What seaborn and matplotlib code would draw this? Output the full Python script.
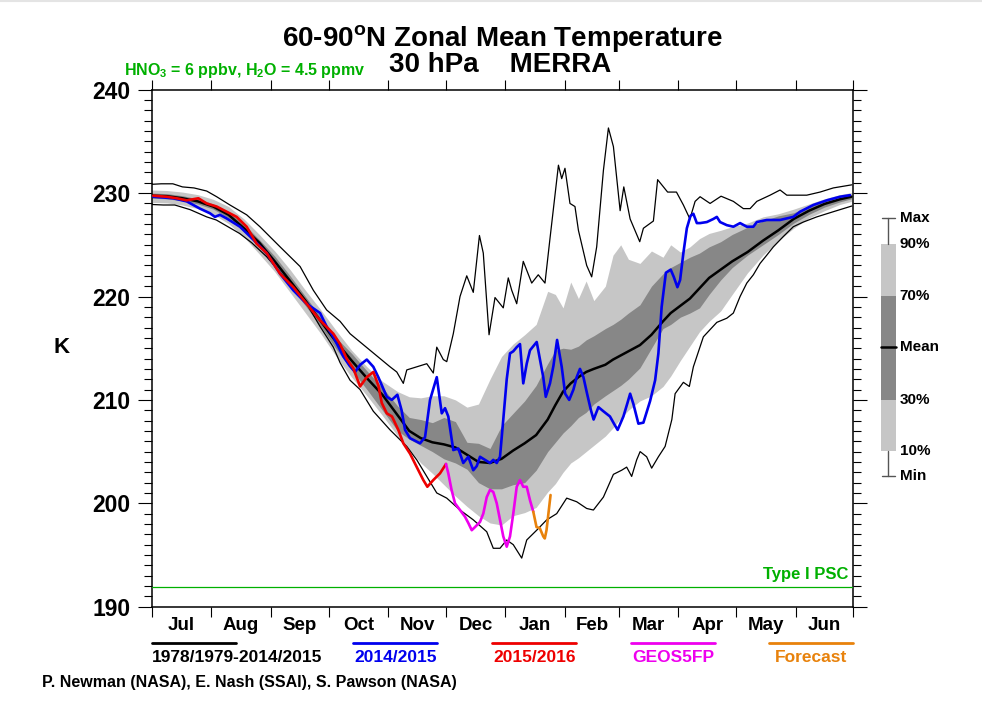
import numpy as np
import pandas as pd
import matplotlib
matplotlib.use("Agg")
import matplotlib.pyplot as plt
from matplotlib.patches import Rectangle
from matplotlib.lines import Line2D
import seaborn as sns

# ---------------- data (day 0 = 1 July) ----------------
band_days = [0, 8, 16, 24, 32, 40, 48, 56, 64, 72, 80, 88, 96, 104, 112, 120, 128, 134, 140, 146,
             152, 158, 164, 170, 176, 182, 188, 194, 200, 206, 210, 214, 218, 222, 226, 230, 236, 240,
             244, 248, 254, 260, 266, 270, 275, 280, 285, 290, 296, 302, 310, 318, 326, 334, 342, 350,
             358, 364]
clim_mean = [229.75, 229.7, 229.5, 229.2, 228.7, 227.9, 226.6, 225.2, 223.4, 221.5, 219.6, 217.6, 215.6,
             213.8, 212.1, 210.5, 208.5, 207.0, 206.3, 205.9, 205.7, 205.4, 204.7, 204.0, 203.9, 204.3,
             205.1, 205.8, 206.6, 208.1, 209.5, 210.8, 211.6, 212.2, 212.7, 213.0, 213.4, 213.9, 214.3,
             214.7, 215.3, 216.3, 217.6, 218.4, 219.1, 219.8, 220.8, 221.8, 222.6, 223.4, 224.3, 225.4,
             226.4, 227.5, 228.3, 228.95, 229.4, 229.65]
p90 = [230.3, 230.25, 230.1, 229.85, 229.4, 228.7, 227.5, 226.0, 224.4, 222.6, 220.6, 218.7, 216.7,
       214.8, 213.2, 211.8, 210.8, 210.3, 210.2, 210.4, 210.4, 210.0, 209.3, 209.6, 212.0, 214.2,
       215.4, 216.3, 217.3, 220.5, 220.2, 218.9, 221.4, 219.8, 221.5, 219.6, 221.0, 224.0, 225.0,
       223.6, 223.2, 224.4, 223.8, 225.0, 224.3, 224.8, 225.6, 226.1, 226.4, 226.75, 227.1, 227.7,
       228.0, 228.45, 228.95, 229.45, 229.85, 230.05]
p70 = [230.0, 229.95, 229.75, 229.45, 228.95, 228.2, 227.0, 225.5, 223.9, 222.0, 220.0, 218.0, 216.0,
       214.5, 212.8, 211.2, 209.4, 208.3, 208.1, 207.8, 208.3, 207.9, 205.9, 205.8, 205.3, 207.5,
       208.7, 209.9, 211.4, 213.5, 214.8, 215.0, 214.9, 215.2, 215.8, 216.2, 216.9, 217.3, 217.8,
       218.4, 219.2, 221.0, 222.2, 222.8, 223.3, 223.8, 224.2, 224.8, 225.3, 226.0, 226.7, 227.3,
       227.8, 228.1, 228.7, 229.25, 229.6, 229.85]
p30 = [229.5, 229.45, 229.25, 228.95, 228.45, 227.6, 226.3, 224.7, 223.0, 221.0, 219.1, 217.1, 214.9,
       212.9, 211.0, 209.0, 207.0, 206.2, 205.6, 205.0, 204.3, 203.9, 203.3, 202.0, 201.4, 201.4,
       201.8, 202.0, 203.2, 205.0, 205.9, 206.8, 207.5, 208.3, 208.8, 209.6, 210.4, 210.9, 211.4,
       212.0, 213.1, 215.0, 216.9, 217.3, 218.0, 218.4, 218.9, 220.2, 221.6, 222.8, 224.0, 225.0,
       226.0, 227.1, 227.95, 228.65, 229.15, 229.45]
p10 = [229.1, 229.05, 228.85, 228.5, 227.95, 227.05, 225.75, 224.1, 222.4, 220.4, 218.4, 216.4, 214.2,
       212.2, 210.4, 208.5, 206.5, 205.2, 203.9, 202.9, 201.8, 200.7, 199.7, 198.8, 198.1, 197.9,
       198.8, 199.1, 199.6, 201.1, 201.9, 203.0, 203.9, 204.4, 205.0, 205.6, 206.5, 207.3, 208.2,
       209.0, 209.9, 210.4, 211.3, 212.3, 213.8, 215.2, 216.6, 217.6, 218.6, 220.2, 222.3, 224.0,
       225.4, 226.6, 227.6, 228.3, 228.9, 229.2]

max_days = [0, 5, 11, 16, 22, 28.6, 33.8, 40.7, 49.4, 56.3, 66.8, 77.2, 84.1, 91, 98, 103.2, 108.4,
            113.6, 118.8, 124, 127.5, 130.9, 132.7, 137.9, 143.1, 146.5, 148.3, 151.7, 153.5, 156.9,
            160.4, 163.9, 167.3, 170.5, 172.5, 175.5, 178.6, 182.9, 185.5, 187.3, 189.9, 193.3, 197.7,
            201.1, 204.6, 207.2, 211.6, 213.3, 215, 217.6, 220.2, 222, 226.3, 228.9, 231.5, 235,
            237.6, 240.2, 243.7, 245.6, 248.9, 253.9, 255.8, 261, 263.2, 268.4, 273, 276.6, 280,
            282.7, 285.3, 290.5, 296.2, 302.6, 307.8, 311.3, 314.8, 321.7, 326.9, 330.4, 340.8,
            347.7, 354.6, 364.2]
max_vals = [230.85, 230.9, 230.9, 230.6, 230.5, 230.2, 229.65, 228.85, 227.9, 226.75, 224.8, 222.9,
            220.6, 218.7, 217.6, 216.4, 215.6, 214.8, 214.0, 213.2, 212.7, 211.6, 212.9, 213.2, 213.5,
            212.6, 215.1, 213.9, 213.7, 216.4, 220.0, 222.0, 220.4, 225.9, 224.2, 216.3, 219.9, 218.9,
            221.8, 220.6, 219.3, 223.4, 221.3, 222.1, 221.3, 225.6, 232.7, 231.4, 232.4, 229.0, 228.7,
            226.4, 223.0, 221.9, 224.8, 232.2, 236.3, 234.5, 228.3, 230.6, 227.5, 225.3, 226.6, 227.3,
            231.3, 230.1, 230.1, 228.85, 227.5, 229.2, 229.65, 229.0, 229.7, 229.2, 228.5, 228.5,
            229.2, 229.8, 230.3, 229.8, 229.8, 230.1, 230.5, 230.8]

min_days = [0, 6, 12, 20, 28.6, 33.6, 45.7, 52, 59.8, 66, 72, 80.6, 87.6, 94.5, 98, 103.2, 108.4,
            115.3, 124, 132.7, 137.9, 143.1, 148.3, 153.5, 160.4, 167.3, 174.3, 177.7, 181.2, 184.7,
            188.1, 192.5, 195.1, 200.3, 205.5, 210.7, 215.9, 221.1, 226.3, 229.8, 235, 240.2, 244.5,
            247.1, 249.7, 252.3, 254.1, 257.5, 260.1, 263.6, 267.1, 270.6, 272.3, 276.6, 279.7, 281.8,
            283.6, 287, 290.5, 294, 299.2, 302.6, 306.1, 309.6, 313, 316.5, 320, 323.4, 328.6, 333.8,
            339, 346, 354.6, 364.2]
min_vals = [228.9, 228.85, 228.85, 228.4, 227.7, 227.4, 226.1, 225.2, 223.85, 222.5, 221.3, 219.3,
            217.1, 215.1, 213.6, 211.9, 211.0, 208.9, 207.1, 205.5, 204.2, 202.6, 201.0, 200.5, 199.35,
            198.4, 197.25, 195.65, 195.65, 196.45, 196.0, 194.7, 196.45, 197.4, 198.4, 199.0, 200.5,
            200.15, 199.5, 199.35, 200.6, 202.8, 203.2, 203.5, 202.6, 204.2, 205.0, 204.5, 203.4, 204.5,
            205.5, 208.1, 210.6, 211.7, 211.3, 213.2, 214.2, 216.1, 216.8, 217.5, 217.9, 218.4, 220.0,
            221.3, 222.1, 223.2, 224.0, 224.8, 225.8, 226.75, 227.2, 227.7, 228.2, 228.75]

y1415_days = [0.8, 11.2, 18.2, 25.1, 30.3, 32.9, 35.5, 39, 45.9, 52.9, 59.8, 66.8, 73.7, 80.6, 87.6,
              91, 94.5, 99.7, 103, 105.8, 108.5, 111.9, 115.3, 117.9, 122.3, 124.9, 127.8, 130, 131.8,
              134.4, 139.6, 142.2, 144.8, 148.3, 150.9, 152.6, 154.3, 156.9, 159.5, 162.1, 164.7,
              167.3, 169.1, 170.8, 173.4, 176, 177.7, 179.5, 181.2,
              182.9, 184.7, 186.4, 188.1, 189.9, 191.6, 193.3, 195.1, 196.8, 200.3, 202, 203.7, 205,
              207.2, 209, 210.9, 213.3, 215.1, 217.2, 219.4, 221.1, 222.8, 224.6, 226.5, 228.5, 229.9,
              232.4, 235, 238.4, 240.5, 242.4, 245.4, 247.5, 248.9, 250.6, 253.2, 255.8, 259.3, 261.9,
              263.6, 265.3, 267.5, 270, 271.6, 273.5, 274.9, 276.6, 278.4, 280.3, 281.8, 283.6, 285.3,
              288.8, 292.2, 294, 295.7, 299.2, 302.6, 306.1, 309.6, 313, 314.8, 320, 326.9, 333.8,
              337.3, 344.2, 351.2, 358.1, 363.3]
y1415_vals = [229.65, 229.5, 229.2, 228.5, 228.05, 227.7, 227.9, 227.55, 226.75, 225.5, 224.2, 222.2,
              220.6, 219.3, 218.4, 217.1, 216.1, 214.2, 213.3, 212.7, 213.4, 213.9, 213.2, 212.2, 210.3,
              210.0, 210.5, 209.0, 207.1, 206.3, 205.8, 206.4, 210.0, 212.2, 208.7, 209.2, 208.4,
              205.15, 205.3, 203.9, 204.5, 203.2, 203.6, 204.5, 204.2, 203.9, 204.2, 203.9, 204.5,
              208.1, 212.0, 214.5, 214.7, 215.1, 215.4, 211.6, 213.5, 214.8,
              215.6, 213.9, 212.2, 210.3, 211.6, 213.3, 215.8, 213.2, 210.6, 210.0, 211.0, 212.2, 213.0,
              212.2, 210.6, 209.0, 208.1, 209.3, 208.9, 208.4, 207.7, 207.1, 208.4, 209.7, 210.6, 209.6,
              207.7, 207.8, 209.9, 211.9, 214.5, 219.0, 222.3, 222.6, 221.9, 220.9, 221.6, 224.2, 226.6,
              227.8, 228.0, 227.1, 227.1, 227.2, 227.5, 227.7, 227.2, 226.9, 226.75, 227.1, 226.75,
              226.75, 227.2, 227.4, 227.4, 227.7, 228.2, 228.85, 229.3, 229.65, 229.8]

y1516_days = [0.8, 7.8, 13, 18.2, 24.3, 28.6, 33.8, 39, 44.2, 49.4, 54.6, 59.8, 66.8, 73.7, 80.6, 87.6,
              94.5, 98, 101.4, 104.9, 108.4, 111.9, 115.3, 117.9, 119.7, 122.3, 125, 128.3, 130.9,
              134.4, 137.9, 141.3, 143.4, 146.5, 150, 153.1]
y1516_vals = [229.75, 229.65, 229.5, 229.3, 229.5, 229.0, 228.7, 228.2, 227.7, 226.75, 225.1, 224.2,
              222.2, 220.9, 219.3, 217.7, 216.4, 215.4, 214.0, 213.05, 211.3, 212.2, 212.7, 211.4,
              209.7, 208.7, 208.4, 207.1, 205.8, 204.8, 203.5, 202.25, 201.6, 202.25, 202.9, 203.8]

geos_days = [153.1, 154.3, 156, 157.8, 160.4, 163, 164.7, 166.5, 168.2, 170.8, 172.5, 174.3, 176,
             177.7, 179.5, 181.2, 182.9, 184.7, 186.4, 188.1, 189.9, 191.6, 193.3, 195.1, 196.8, 198.5]
geos_vals = [203.8, 202.9, 201.3, 200.0, 199.35, 198.7, 198.1, 197.4, 197.7, 198.2, 199.0, 200.6,
             201.3, 201.1, 200.0, 198.4, 196.8, 195.8, 196.8, 199.0, 201.6, 202.25, 201.6, 201.6,
             200.3, 199.2]

fcst_days = [198.5, 200.2, 201.9, 203.7, 204.5, 205.4, 206.2, 207.5]
fcst_vals = [199.2, 197.7, 197.6, 196.8, 196.6, 197.4, 198.7, 200.8]

psc_temp = 191.9
month_starts = [0, 31, 62, 92, 123, 153, 184, 215, 243, 274, 304, 335, 365]
month_labels = ["Jul", "Aug", "Sep", "Oct", "Nov", "Dec", "Jan", "Feb", "Mar", "Apr", "May", "Jun"]
legend_labels = ["1978/1979-2014/2015", "2014/2015", "2015/2016", "GEOS5FP", "Forecast"]
key_labels = ["Max", "90%", "70%", "Mean", "30%", "10%", "Min"]
key_levels = [227.55, 225.05, 220.05, 215.1, 210.0, 205.1, 202.65]

# ---------------- style ----------------
sns.set_theme(style="ticks")
plt.rcParams['font.family'] = ['Liberation Sans', 'DejaVu Sans']
plt.rcParams['font.weight'] = 'bold'
plt.rcParams['text.color'] = 'black'
plt.rcParams['axes.labelcolor'] = 'black'
plt.rcParams['xtick.color'] = 'black'
plt.rcParams['ytick.color'] = 'black'
plt.rcParams['mathtext.fontset'] = 'custom'
plt.rcParams['mathtext.rm'] = 'Liberation Sans:bold'
plt.rcParams['mathtext.bf'] = 'Liberation Sans:bold'
plt.rcParams['mathtext.it'] = 'Liberation Sans:bold'
plt.rcParams['mathtext.default'] = 'bf'

LIGHT = '#c6c6c6'
DARK = '#878787'
BLUE = '#0000ee'
RED = '#ee0000'
MAG = '#ee00ee'
ORANGE = '#e8820c'
GREEN = '#00b000'

fig = plt.figure(figsize=(9.82, 7.12), dpi=100)
ax = fig.add_axes([0.15448, 0.14789, 0.71446, 0.72612])

bd = np.array(band_days, dtype=float)
ax.fill_between(bd, p10, p90, color=LIGHT, lw=0, zorder=1)
ax.fill_between(bd, p30, p70, color=DARK, lw=0, zorder=2)

sns.lineplot(x=max_days, y=max_vals, ax=ax, color='black', linewidth=0.9, estimator=None, sort=False, zorder=3)
sns.lineplot(x=min_days, y=min_vals, ax=ax, color='black', linewidth=0.9, estimator=None, sort=False, zorder=3)
sns.lineplot(x=band_days, y=clim_mean, ax=ax, color='black', linewidth=1.8, estimator=None, sort=False, zorder=4)
sns.lineplot(x=y1415_days, y=y1415_vals, ax=ax, color=BLUE, linewidth=1.9, estimator=None, sort=False, zorder=5)
sns.lineplot(x=y1516_days, y=y1516_vals, ax=ax, color=RED, linewidth=1.9, estimator=None, sort=False, zorder=6)
sns.lineplot(x=geos_days, y=geos_vals, ax=ax, color=MAG, linewidth=1.9, estimator=None, sort=False, zorder=6)
sns.lineplot(x=fcst_days, y=fcst_vals, ax=ax, color=ORANGE, linewidth=1.9, estimator=None, sort=False, zorder=6)

ax.axhline(psc_temp, color=GREEN, lw=0.9, zorder=7)
ax.text(0.993, (193.15 - 190) / 50, "Type I PSC", transform=ax.transAxes, ha='right', va='center',
        color=GREEN, fontsize=12, fontweight='bold')

ax.set_xlim(0, 365)
ax.set_ylim(190, 240)
ax.set_xlabel("")
ax.set_ylabel("")

# x ticks: month boundaries as major, centers as labelled minor
centers = [(month_starts[i] + month_starts[i + 1]) / 2 for i in range(12)]
ax.set_xticks(month_starts)
ax.set_xticklabels([])
ax.set_xticks(centers, minor=True)
ax.set_xticklabels(month_labels, minor=True)
ax.tick_params(axis='x', which='major', direction='out', length=7, width=0.8, top=True, bottom=True,
               color='black')
ax.tick_params(axis='x', which='minor', length=0, pad=7.5, labelsize=13.5, colors='black')

ax.set_yticks(np.arange(190, 241, 10))
ax.set_yticks(np.arange(190, 241, 1), minor=True)
ax.tick_params(axis='y', which='major', direction='out', length=10, width=0.8, left=True, right=True,
               labelsize=16.5, pad=5.5, colors='black')
ax.tick_params(axis='y', which='minor', direction='out', length=6, width=0.8, left=True, right=True,
               colors='black')
for lab in ax.get_xticklabels(minor=True) + ax.get_yticklabels():
    lab.set_fontweight('bold')

for s in ax.spines.values():
    s.set_visible(True)
    s.set_linewidth(1.1)
    s.set_color('black')

# ---------------- key on the right ----------------
bx0, bx1, wx = 379.4, 387.1, 383.25
ax.add_patch(Rectangle((bx0, key_levels[5]), bx1 - bx0, key_levels[1] - key_levels[5],
                       facecolor=LIGHT, edgecolor='none', clip_on=False))
ax.add_patch(Rectangle((bx0, key_levels[4]), bx1 - bx0, key_levels[2] - key_levels[4],
                       facecolor=DARK, edgecolor='none', clip_on=False))
ax.plot([bx0, bx1], [key_levels[3]] * 2, color='black', lw=1.8, clip_on=False)
ax.plot([wx, wx], [key_levels[1], key_levels[0]], color='#555555', lw=1.0, clip_on=False)
ax.plot([wx, wx], [key_levels[5], key_levels[6]], color='#555555', lw=1.0, clip_on=False)
ax.plot([bx0 + 0.5, bx1 - 0.5], [key_levels[0]] * 2, color='#555555', lw=1.0, clip_on=False)
ax.plot([bx0 + 0.5, bx1 - 0.5], [key_levels[6]] * 2, color='#555555', lw=1.0, clip_on=False)
for lab, lev in zip(key_labels, key_levels):
    ax.text(389.2, lev, lab, ha='left', va='center', fontsize=11, fontweight='bold', clip_on=False)

# ---------------- titles and annotations ----------------
W, H = 982.0, 712.0
fig.add_artist(Line2D([0, 1], [1 - 0.8 / H] * 2, color='#e4e4e4', lw=1.5))
fig.text(503 / W, 1 - 45.5 / H, "60-90$^{\\mathrm{o}}$N Zonal Mean Temperature", ha='center', va='baseline',
         fontsize=20, fontweight='bold')
fig.text(500 / W, 1 - 72 / H, "30 hPa    MERRA", ha='center', va='baseline', fontsize=20,
         fontweight='bold')
fig.text(124 / W, 1 - 71 / H, "HNO$_3$ = 6 ppbv, H$_2$O = 4.5 ppmv", ha='left', va='center',
         fontsize=11.5, fontweight='bold', color=GREEN)
fig.text(62 / W, 1 - 347 / H, "K", ha='center', va='center', fontsize=16, fontweight='bold')

# legend below the axes
leg_segments = [(151.7, 236.0), (353.3, 437.3), (492.3, 576.3), (631.0, 715.0), (769.3, 853.3)]
leg_colors = ['black', BLUE, RED, MAG, ORANGE]
for i, ((x0, x1), col, lab) in enumerate(zip(leg_segments, leg_colors, legend_labels)):
    fig.add_artist(Line2D([x0 / W, x1 / W], [1 - 642.7 / H] * 2, color=col, lw=2.0))
    if i == 0:
        fig.text(x0 / W, 1 - 658 / H, lab, ha='left', va='center', fontsize=12.5, fontweight='bold', color=col)
    else:
        fig.text((x0 + x1) / 2 / W, 1 - 658 / H, lab, ha='center', va='center', fontsize=12.5,
                 fontweight='bold', color=col)

fig.text(42 / W, 1 - 683 / H, "P. Newman (NASA), E. Nash (SSAI), S. Pawson (NASA)", ha='left', va='center',
         fontsize=11.5, fontweight='bold')

fig.savefig("out.png", dpi=100)
